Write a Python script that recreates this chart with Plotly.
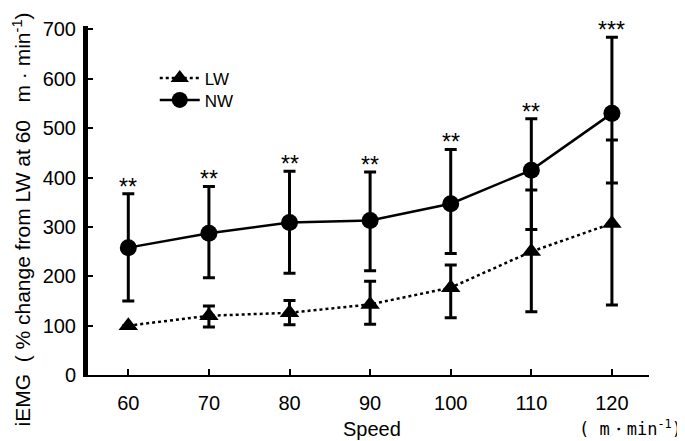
import plotly.graph_objects as go

speeds = [60, 70, 80, 90, 100, 110, 120]
x_ticks = ["60", "70", "80", "90", "100", "110", "120"]
y_ticks = [0, 100, 200, 300, 400, 500, 600, 700]

lw_mean = [100, 120, 126, 143, 177, 250, 307]
lw_plus = [0, 20, 25, 47, 46, 125, 169]
lw_minus = [0, 23, 24, 40, 61, 122, 165]

nw_mean = [258, 287, 309, 313, 347, 415, 530]
nw_plus = [109, 95, 104, 98, 110, 104, 154]
nw_minus = [108, 90, 103, 102, 101, 120, 141]

stars = ["**", "**", "**", "**", "**", "**", "***"]

FONT = "Liberation Sans, Arial, sans-serif"

fig = go.Figure()
fig.add_trace(go.Scatter(
    x=speeds, y=lw_mean, name="LW", mode="lines+markers", legend="legend",
    line=dict(color="black", width=2.5, dash="dot"),
    marker=dict(symbol="triangle-up", size=17, color="black"),
    error_y=dict(type="data", symmetric=False, array=lw_plus, arrayminus=lw_minus,
                 color="black", thickness=3, width=6),
))
fig.add_trace(go.Scatter(
    x=speeds, y=nw_mean, name="NW", mode="lines+markers", legend="legend2",
    line=dict(color="black", width=2.5),
    marker=dict(symbol="circle", size=17, color="black"),
    error_y=dict(type="data", symmetric=False, array=nw_plus, arrayminus=nw_minus,
                 color="black", thickness=3, width=6),
))

for sx, m, p, s in zip(speeds, nw_mean, nw_plus, stars):
    fig.add_annotation(x=sx, y=m + p, text=s, showarrow=False, yanchor="bottom",
                       yshift=-8, font=dict(size=23, color="black", family=FONT))

# axis titles
fig.add_annotation(xref="paper", yref="paper", x=0.506, y=-0.155, xanchor="center",
                   yanchor="middle", showarrow=False, text="Speed",
                   font=dict(size=20, color="black", family=FONT))
fig.add_annotation(xref="paper", yref="paper", x=1.0624, y=-0.152, xanchor="right",
                   yanchor="middle", showarrow=False,
                   text="( m・min<sup>-1</sup>)",
                   font=dict(size=17, color="black", family="DejaVu Sans Mono, monospace"))
fig.add_annotation(xref="paper", yref="paper", x=-0.1176, y=0.4456, xanchor="center",
                   yanchor="middle", showarrow=False, textangle=-90,
                   text="iEMG  ( % change from LW at 60   m · min<sup>-1</sup>)",
                   font=dict(size=21, color="black", family=FONT))

leg = dict(xanchor="left", yanchor="middle", bgcolor="rgba(0,0,0,0)",
           font=dict(size=17, family=FONT), itemwidth=40)

fig.update_layout(
    width=677, height=433,
    margin=dict(l=80, r=36, t=18, b=66, autoexpand=False),
    paper_bgcolor="white", plot_bgcolor="white",
    font=dict(family=FONT, color="black", size=20),
    showlegend=True,
    legend=dict(x=0.119, y=0.85, **leg),
    legend2=dict(x=0.119, y=0.787, **leg),
    xaxis=dict(
        range=[55, 124.6], tickvals=speeds, ticktext=x_ticks, automargin=False,
        showgrid=False, zeroline=False, showline=True, linecolor="black", linewidth=1.5,
        ticks="inside", ticklen=6, tickwidth=1.5, tickcolor="black",
        ticklabelstandoff=9, tickfont=dict(size=20, family=FONT),
    ),
    yaxis=dict(
        range=[0, 707], tickvals=y_ticks, automargin=False,
        showgrid=False, zeroline=False, showline=True, linecolor="black", linewidth=5,
        ticks="inside", ticklen=5, tickwidth=1.5, tickcolor="black",
        ticklabelstandoff=3, tickfont=dict(size=20, family=FONT),
    ),
)

fig.write_html("out.html")
